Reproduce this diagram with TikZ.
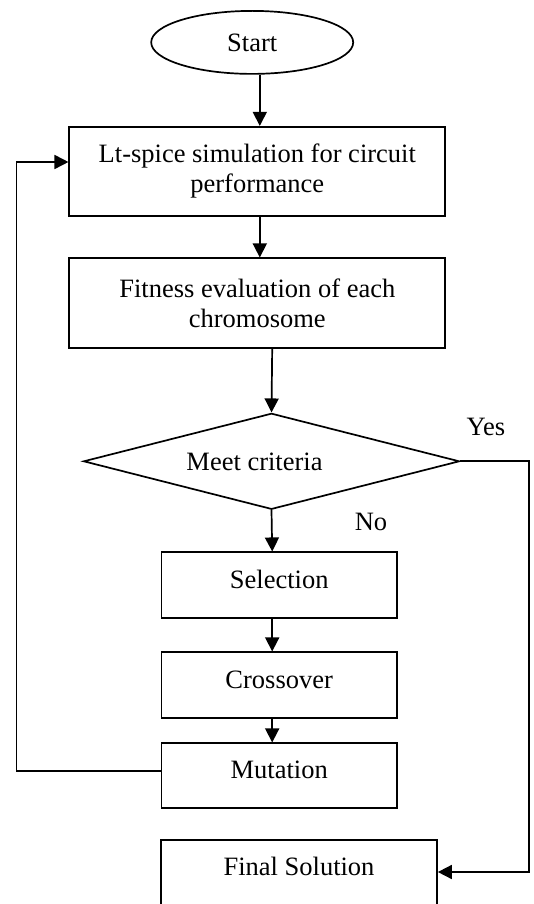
\documentclass[tikz,border=0pt]{standalone}
\usepackage{fontspec}
\setmainfont{Liberation Serif}
\usetikzlibrary{shapes.geometric,arrows.meta}
\begin{document}
\begin{tikzpicture}[x=1pt,y=-1pt,
  every node/.style={font=\fontsize{26.5}{30}\selectfont, inner sep=0pt},
  box/.style={draw, line width=1.7pt, rectangle, align=center},
  conn/.style={line width=1.7pt},
  arr/.style={line width=1.7pt, -{Triangle[length=14pt,width=14pt]}}]
\useasboundingbox (0,0) rectangle (534,904);
\node[draw, line width=1.7pt, ellipse, minimum width=202pt, minimum height=63pt] (start) at (252.2,42.4) {Start};
\node[box, minimum width=376pt, minimum height=89.3pt] (box1) at (257.3,171.4) {Lt-spice simulation for circuit\\performance};
\node[box, minimum width=376pt, minimum height=89.4pt] (box2) at (257.3,303) {Fitness evaluation of each\\chromosome};
\node[draw, line width=1.7pt, diamond, minimum width=376pt, minimum height=96pt,
  label={[name=dtext, xshift=-17pt, yshift=-1pt]center:Meet criteria}] (dec) at (271.5,461.3) {};
\node[box, minimum width=235.6pt, minimum height=65.4pt, text height=18pt, text depth=12pt] (sel) at (279.2,585) {Selection};
\node[box, minimum width=235.6pt, minimum height=65.4pt, text height=18pt, text depth=12pt] (cross) at (279.2,685) {Crossover};
\node[box, minimum width=235.6pt, minimum height=65pt, text height=18pt, text depth=13pt] (mut) at (279.2,775.8) {Mutation};
\node[box, minimum width=276pt, minimum height=80pt, text height=18pt, text depth=28pt] (final) at (299,880) {Final Solution};
\node[anchor=base] (yes) at (486,435) {Yes};
\node[anchor=base] (no) at (371,530) {No};
\coordinate (colA) at (259.8,0);
\coordinate (colB) at (272.2,0);
\coordinate (fbB) at (16.4,771);
\coordinate (fbT) at (16.4,162);
\coordinate (yesB) at (529,872);
\draw[arr] (start.south -| colA) -- (box1.north -| colA);
\draw[arr] (box1.south -| colA) -- (box2.north -| colA);
\draw[arr] (box2.south -| colB) -- (dec.north);
\draw[arr] (dec.south) -- (sel.north -| colB);
\draw[arr] (sel.south -| colB) -- (cross.north -| colB);
\draw[arr] (cross.south -| colB) -- (mut.north -| colB);
\draw[arr] (mut.west |- fbB) -- (fbB) -- (fbT) -- (box1.west |- fbT);
\draw[arr] (dec.east) -- (dec.east -| yesB) -- (yesB) -- (final.east |- yesB);
\end{tikzpicture}
\end{document}
